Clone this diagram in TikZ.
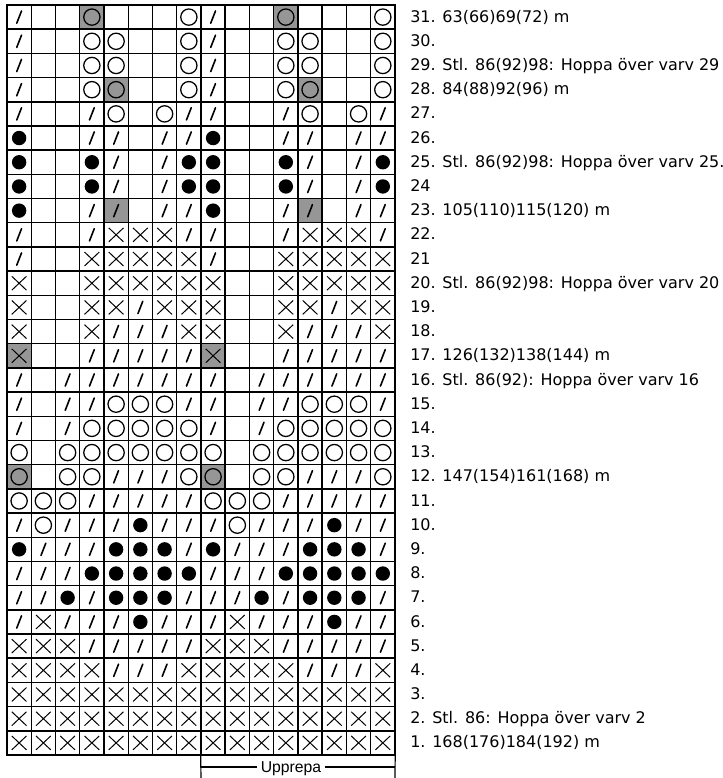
\documentclass[tikz,border=0pt]{standalone}
\usepackage{fontspec}
\setmainfont{DejaVu Sans}
\newfontfamily\bracketfont{Liberation Sans}
\usetikzlibrary{positioning}
\definecolor{chartGray}{RGB}{150,150,150}

\begin{document}
\begin{tikzpicture}[x=18.19pt,y=18.15pt,
    cell/.style={minimum width=18.19pt, minimum height=18.15pt, inner sep=0pt},
    bl/.style={},
    sl/.style={path picture={\draw[line width=1.2pt, line cap=round]
        ([xshift=-1.8pt,yshift=-4.6pt]path picture bounding box.center) --
        ([xshift=1.8pt,yshift=4.6pt]path picture bounding box.center);}},
    cr/.style={path picture={\draw[line width=0.75pt]
        ([shift={(-5.5pt,-5.2pt)}]path picture bounding box.center) -- ([shift={(5.5pt,5.2pt)}]path picture bounding box.center)
        ([shift={(-5.5pt,5.2pt)}]path picture bounding box.center) -- ([shift={(5.5pt,-5.2pt)}]path picture bounding box.center);}},
    ci/.style={path picture={\draw[line width=0.95pt] (path picture bounding box.center) circle (6.1pt);}},
    dot/.style={path picture={\fill (path picture bounding box.center) circle (5.4pt);}},
    gsl/.style={fill=chartGray, sl},
    gcr/.style={fill=chartGray, cr},
    gci/.style={fill=chartGray, ci},
    rowlabel/.style={anchor=base west, inner sep=0pt, font=\fontsize{12}{14}\selectfont}
  ]
  \useasboundingbox (-0.289,-0.951) rectangle (29.526,31.207);

  % chart, one repeat of 8 stitches per row
  \foreach \r/\row in {
      31/{sl,bl,bl,gci,bl,bl,bl,ci},
      30/{sl,bl,bl,ci,ci,bl,bl,ci},
      29/{sl,bl,bl,ci,ci,bl,bl,ci},
      28/{sl,bl,bl,ci,gci,bl,bl,ci},
      27/{sl,bl,bl,sl,ci,bl,ci,sl},
      26/{dot,bl,bl,sl,sl,bl,sl,sl},
      25/{dot,bl,bl,dot,sl,bl,sl,dot},
      24/{dot,bl,bl,dot,sl,bl,sl,dot},
      23/{dot,bl,bl,sl,gsl,bl,sl,sl},
      22/{sl,bl,bl,sl,cr,cr,cr,sl},
      21/{sl,bl,bl,cr,cr,cr,cr,cr},
      20/{cr,bl,bl,cr,cr,cr,cr,cr},
      19/{cr,bl,bl,cr,cr,sl,cr,cr},
      18/{cr,bl,bl,cr,sl,sl,sl,cr},
      17/{gcr,bl,bl,sl,sl,sl,sl,sl},
      16/{sl,bl,sl,sl,sl,sl,sl,sl},
      15/{sl,bl,sl,sl,ci,ci,ci,sl},
      14/{sl,bl,sl,ci,ci,ci,ci,ci},
      13/{ci,bl,ci,ci,ci,ci,ci,ci},
      12/{gci,bl,ci,ci,sl,sl,sl,ci},
      11/{ci,ci,ci,sl,sl,sl,sl,sl},
      10/{sl,ci,sl,sl,sl,dot,sl,sl},
      9/{dot,sl,sl,sl,dot,dot,dot,sl},
      8/{sl,sl,sl,dot,dot,dot,dot,dot},
      7/{sl,sl,dot,sl,dot,dot,dot,sl},
      6/{sl,cr,sl,sl,sl,dot,sl,sl},
      5/{cr,cr,cr,sl,sl,sl,sl,sl},
      4/{cr,cr,cr,cr,sl,sl,sl,cr},
      3/{cr,cr,cr,cr,cr,cr,cr,cr},
      2/{cr,cr,cr,cr,cr,cr,cr,cr},
      1/{cr,cr,cr,cr,cr,cr,cr,cr}}
    \foreach \st [count=\i] in \row
      \foreach \h in {0,8} {
        \pgfmathtruncatemacro\col{\h+\i}
        \node[cell,\st] (k-\r-\col) at (\col-0.5,\r-0.5) {};
      }
  \draw[line width=1.1pt, xstep=18.19pt, ystep=18.15pt] (k-1-1.south west) grid (k-31-16.north east);
  \draw[line width=1.3pt] (k-1-1.south west) rectangle (k-31-16.north east);

  % row notes
  \foreach \r/\txt in {
      31/{31. 63(66)69(72) m}, 30/{30.},
      29/{29. Stl. 86(92)98: Hoppa över varv 29},
      28/{28. 84(88)92(96) m}, 27/{27.}, 26/{26.},
      25/{25. Stl. 86(92)98: Hoppa över varv 25.},
      24/{24}, 23/{23. 105(110)115(120) m}, 22/{22.}, 21/{21},
      20/{20. Stl. 86(92)98: Hoppa över varv 20},
      19/{19.}, 18/{18.}, 17/{17. 126(132)138(144) m},
      16/{16. Stl. 86(92): Hoppa över varv 16},
      15/{15.}, 14/{14.}, 13/{13.}, 12/{12. 147(154)161(168) m},
      11/{11.}, 10/{10.}, 9/{9.}, 8/{8.}, 7/{7.}, 6/{6.}, 5/{5.}, 4/{4.}, 3/{3.},
      2/{2. Stl. 86: Hoppa över varv 2},
      1/{1. 168(176)184(192) m}}
    \node[rowlabel] (lab-\r) at (16.62,\r-0.71) {\txt};

  % repeat bracket
  \node[font=\bracketfont\fontsize{11.8}{13}\selectfont, inner sep=2.5pt] (upp) at (11.71,-0.58) {Upprepa};
  \coordinate (upL) at (8,-0.5);
  \coordinate (upR) at (16,-0.5);
  \coordinate (upLb) at (8,-1);
  \coordinate (upRb) at (16,-1);
  \draw[line width=0.9pt] (k-1-9.south west) -- (upLb);
  \draw[line width=0.9pt] (k-1-16.south east) -- (upRb);
  \draw[line width=0.9pt] (upL) -- (upL -| upp.west);
  \draw[line width=0.9pt] (upR -| upp.east) -- (upR);
\end{tikzpicture}
\end{document}
